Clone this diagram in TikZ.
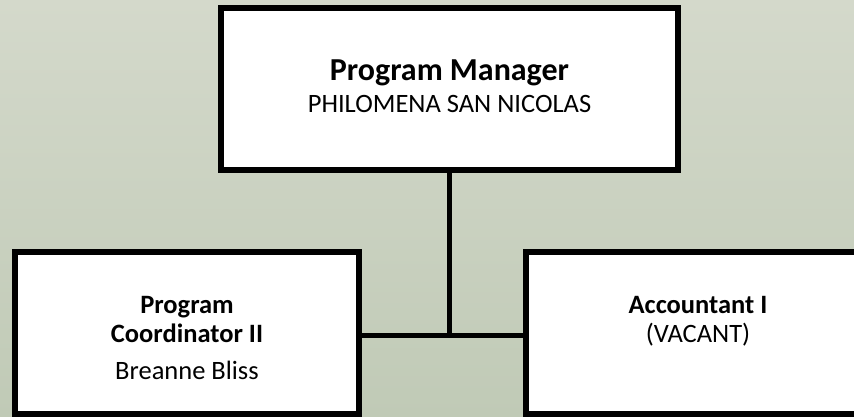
\documentclass[tikz,border=0pt]{standalone}
\usepackage{fontspec}
\setmainfont{Carlito}
\usepackage{tikz}
\usetikzlibrary{positioning}

\definecolor{bgtop}{RGB}{212,217,203}
\definecolor{bgbottom}{RGB}{192,202,182}

\tikzset{
  box/.style={draw=black, line width=5.5pt, fill=white, inner sep=0pt,
    minimum height=162pt},
  txt/.style={align=center, inner sep=0pt, outer sep=0pt,
    font=\fontsize{26.5}{29}\selectfont},
  link/.style={draw=black, line width=5pt}
}

\begin{document}
\begin{tikzpicture}[x=1pt, y=1pt]

\useasboundingbox (0,0) rectangle (854,417);
\fill[top color=bgtop, bottom color=bgbottom] (0,0) rectangle (854,417);

% boxes
\node[box, minimum width=457pt] (pm) at (449.5,328) {};
\node[box, minimum width=344pt] (pc) at (187,84) {};
\node[box, minimum width=344pt] (ac) at (698,84) {};

% texts
\node[txt, font=\fontsize{26.5}{31.5}\selectfont, anchor=north,
  below=55pt of pm.north] (pmtext)
  {{\fontsize{32}{38}\selectfont\bfseries Program Manager}\\PHILOMENA SAN NICOLAS};
\node[txt, anchor=north, below=47pt of pc.north] (pctext)
  {\textbf{Program}\\\textbf{Coordinator II}\\[8pt]Breanne Bliss};
\node[txt, anchor=north, below=47pt of ac.north] (actext)
  {\textbf{Accountant I}\\(VACANT)};

% connectors
\coordinate (jn) at (449.5,81.5);
\draw[link] (pm.south) -- (jn);
\draw[link] (pc.east |- jn) -- (ac.west |- jn);

\end{tikzpicture}
\end{document}
